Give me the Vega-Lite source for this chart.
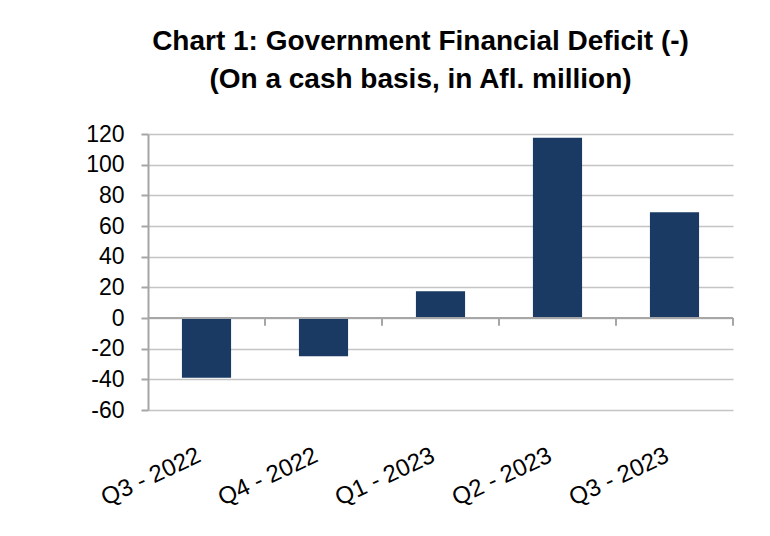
{
  "$schema": "https://vega.github.io/schema/vega-lite/v6.json",
  "width": 585,
  "height": 276,
  "autosize": {"type": "none"},
  "padding": {"left": 148, "top": 134, "right": 37, "bottom": 126},
  "background": "white",
  "title": {
    "text": ["Chart 1: Government Financial  Deficit (-)", "(On a cash basis, in Afl. million)"],
    "font": "Liberation Sans",
    "fontSize": 28,
    "fontWeight": "bold",
    "color": "black",
    "anchor": "middle",
    "dx": -20,
    "lineHeight": 38,
    "offset": 29
  },
  "data": {
    "values": [
      {"quarter": "Q3 - 2022", "deficit": -39},
      {"quarter": "Q4 - 2022", "deficit": -25},
      {"quarter": "Q1 - 2023", "deficit": 17.5},
      {"quarter": "Q2 - 2023", "deficit": 117.5},
      {"quarter": "Q3 - 2023", "deficit": 69}
    ]
  },
  "encoding": {
    "x": {
      "field": "quarter", "type": "nominal", "sort": null,
      "scale": {"paddingInner": 0, "paddingOuter": 0},
      "axis": {
        "title": null, "domain": false, "ticks": false,
        "labelAngle": -25, "labelAlign": "right", "labelBaseline": "middle",
        "labelFont": "Liberation Sans", "labelFontSize": 24, "labelColor": "black",
        "labelOffset": -7, "labelPadding": 44
      }
    }
  },
  "layer": [
    {
      "mark": {"type": "bar", "color": "#1a3a63", "width": {"band": 0.42}},
      "encoding": {
        "y": {
          "field": "deficit", "type": "quantitative",
          "scale": {"domain": [-60, 120], "nice": false},
          "axis": {
            "title": null, "values": [-60, -40, -20, 0, 20, 40, 60, 80, 100, 120],
            "labelExpr": "'' + datum.value", "labelOverlap": false
          }
        }
      }
    },
    {
      "mark": {"type": "rule", "color": "#a6a6a6", "strokeWidth": 2},
      "encoding": {
        "y": {
          "datum": 0, "type": "quantitative",
          "axis": {
            "title": null, "values": [-60, -40, -20, 0, 20, 40, 60, 80, 100, 120],
            "labelExpr": "'' + datum.value", "labelOverlap": false
          }
        },
        "x": null
      }
    },
    {
      "mark": {"type": "rule", "color": "#a6a6a6", "strokeWidth": 2},
      "encoding": {
        "x": {"field": "quarter", "type": "nominal", "sort": null, "bandPosition": 1},
        "y": {
          "datum": 0, "type": "quantitative",
          "axis": {
            "title": null, "values": [-60, -40, -20, 0, 20, 40, 60, 80, 100, 120],
            "labelExpr": "'' + datum.value", "labelOverlap": false
          }
        },
        "y2": {"datum": -5}
      }
    }
  ],
  "config": {
    "view": {"stroke": null},
    "axisY": {
      "labelOverlap": false,
      "domainColor": "#a6a6a6", "domainWidth": 2,
      "tickColor": "#a6a6a6", "tickWidth": 2, "tickSize": 7,
      "gridColor": "#c4c4c4", "gridWidth": 1.6,
      "labelFont": "Liberation Sans", "labelFontSize": 23, "labelColor": "black",
      "labelPadding": 17
    }
  }
}
